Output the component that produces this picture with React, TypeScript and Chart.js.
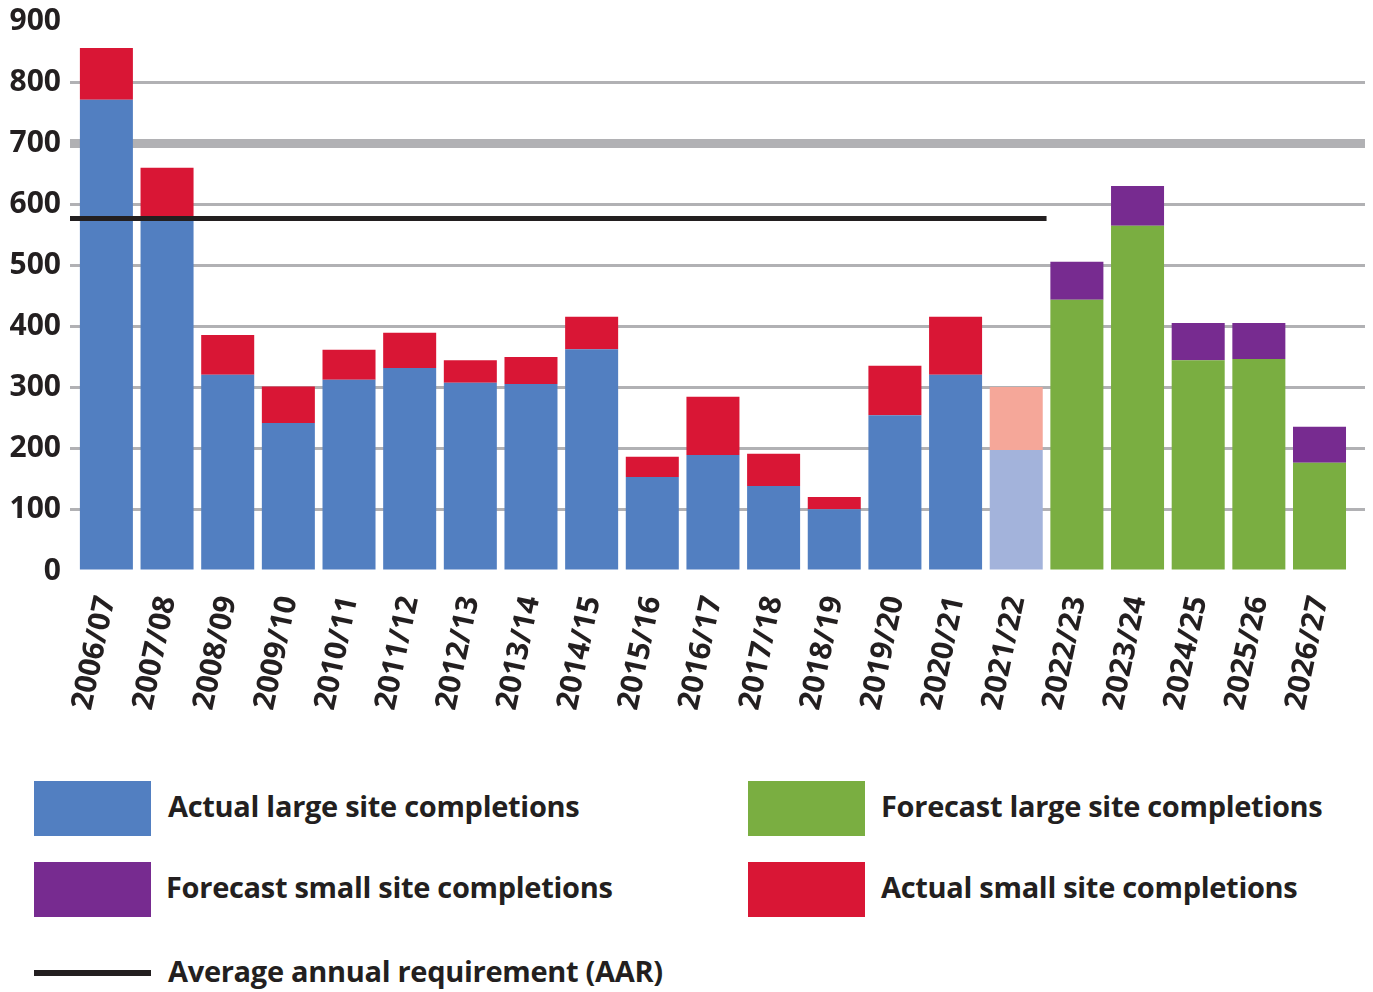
import React, { useEffect, useRef } from 'react';
import { Chart, registerables } from 'chart.js';

Chart.register(...registerables);

const categories = ['2006/07', '2007/08', '2008/09', '2009/10', '2010/11', '2011/12', '2012/13', '2013/14', '2014/15', '2015/16', '2016/17', '2017/18', '2018/19', '2019/20', '2020/21', '2021/22', '2022/23', '2023/24', '2024/25', '2025/26', '2026/27'];
const actualLarge = [771, 579, 321, 242, 313, 332, 308, 306, 363, 154, 190, 139, 101, 255, 321, null, null, null, null, null, null];
const actualSmall = [85, 81, 65, 60, 49, 58, 37, 44, 53, 33, 95, 53, 20, 81, 95, null, null, null, null, null, null];
const estimatedLarge = [null, null, null, null, null, null, null, null, null, null, null, null, null, null, null, 198, null, null, null, null, null];
const estimatedSmall = [null, null, null, null, null, null, null, null, null, null, null, null, null, null, null, 103, null, null, null, null, null];
const forecastLarge = [null, null, null, null, null, null, null, null, null, null, null, null, null, null, null, null, 444, 565, 345, 347, 177];
const forecastSmall = [null, null, null, null, null, null, null, null, null, null, null, null, null, null, null, null, 62, 65, 61, 59, 59];
const aarValue = 577;
const aarLastCategory = '2021/22';
const yMin = 0;
const yMax = 900;
const yStep = 100;
const highlightedGridValue = 700;

const TEXT = '#231F20';
const FONT = "'Open Sans', sans-serif";
const COLORS = {
  actualLarge: '#527FC1',
  actualSmall: '#D91635',
  estimatedLarge: '#A3B3DB',
  estimatedSmall: '#F5A799',
  forecastLarge: '#7AAE41',
  forecastSmall: '#772B90',
  grid: '#B1B1B4',
};

const CANVAS_W = 1373;
const CANVAS_H = 740;
const PLOT_BOTTOM = 571;

const toPoints = (arr: (number | null)[]) =>
  arr.map((v, i) => (v == null ? null : { x: i, y: v })).filter((p) => p !== null) as { x: number; y: number }[];

const legendItems = [
  { label: 'Actual large site completions', color: COLORS.actualLarge, left: 34, top: 781, textLeft: 168, kind: 'box' },
  { label: 'Forecast small site completions', color: COLORS.forecastSmall, left: 34, top: 862, textLeft: 166, kind: 'box' },
  { label: 'Average annual requirement (AAR)', color: TEXT, left: 34, top: 946, textLeft: 168, kind: 'line' },
  { label: 'Forecast large site completions', color: COLORS.forecastLarge, left: 748, top: 781, textLeft: 881, kind: 'box' },
  { label: 'Actual small site completions', color: COLORS.actualSmall, left: 748, top: 862, textLeft: 881, kind: 'box' },
];

export default function App() {
  const canvasRef = useRef<HTMLCanvasElement | null>(null);

  useEffect(() => {
    if (!canvasRef.current) return;
    const aarPlugin = {
      id: 'aarLine',
      afterDraw(chart: any) {
        const { ctx, chartArea, scales } = chart;
        const y = scales.y.getPixelForValue(aarValue);
        const endIdx = categories.indexOf(aarLastCategory);
        const xEnd = scales.x.getPixelForValue(endIdx + 0.5);
        ctx.save();
        ctx.strokeStyle = TEXT;
        ctx.lineWidth = 5;
        ctx.beginPath();
        ctx.moveTo(chartArea.left, y);
        ctx.lineTo(xEnd, y);
        ctx.stroke();
        ctx.restore();
      },
    };

    const barCommon = {
      barPercentage: 0.874,
      categoryPercentage: 1,
      borderWidth: 0,
      grouped: false,
    };

    const chart = new Chart(canvasRef.current, {
      type: 'bar',
      data: {
        datasets: [
          { label: 'Actual large site completions', data: toPoints(actualLarge), backgroundColor: COLORS.actualLarge, ...barCommon },
          { label: 'Actual small site completions', data: toPoints(actualSmall), backgroundColor: COLORS.actualSmall, ...barCommon },
          { label: 'Estimated large site completions', data: toPoints(estimatedLarge), backgroundColor: COLORS.estimatedLarge, ...barCommon },
          { label: 'Estimated small site completions', data: toPoints(estimatedSmall), backgroundColor: COLORS.estimatedSmall, ...barCommon },
          { label: 'Forecast large site completions', data: toPoints(forecastLarge), backgroundColor: COLORS.forecastLarge, ...barCommon },
          { label: 'Forecast small site completions', data: toPoints(forecastSmall), backgroundColor: COLORS.forecastSmall, ...barCommon },
        ] as any,
      },
      options: {
        responsive: false,
        animation: false,
        devicePixelRatio: 1,
        layout: { padding: { top: 21, right: 8, left: 0, bottom: 0 } },
        plugins: {
          legend: { display: false },
          tooltip: { enabled: false },
        },
        scales: {
          x: {
            type: 'linear',
            min: -0.6,
            max: 20.75,
            stacked: true,
            offset: false,
            grid: { display: false, drawTicks: false },
            border: { display: false },
            afterBuildTicks: (axis: any) => {
              axis.ticks = categories.map((_, i) => ({ value: i }));
            },
            afterFit: (axis: any) => {
              axis.height = CANVAS_H - PLOT_BOTTOM;
              axis.paddingLeft = 0;
              axis.paddingRight = 0;
            },
            ticks: {
              autoSkip: false,
              minRotation: 78,
              maxRotation: 78,
              padding: 22,
              color: TEXT,
              font: { family: FONT, size: 30, weight: 'bold' },
              callback: (v: any) => categories[v] ?? '',
            },
          },
          y: {
            min: yMin,
            max: yMax,
            stacked: true,
            z: 1,
            afterFit: (axis: any) => {
              axis.width = 70;
              axis.paddingTop = 0;
              axis.paddingBottom = 0;
            },
            grid: {
              color: (ctx: any) =>
                ctx.tick && (ctx.tick.value === yMin || ctx.tick.value === yMax) ? 'rgba(0,0,0,0)' : COLORS.grid,
              lineWidth: (ctx: any) => (ctx.tick && ctx.tick.value === highlightedGridValue ? 9 : 3),
              drawTicks: false,
            },
            border: { display: false },
            ticks: {
              stepSize: yStep,
              padding: 9,
              color: TEXT,
              font: { family: FONT, size: 30, weight: 'bold' },
            },
          },
        } as any,
      },
      plugins: [aarPlugin],
    } as any);
    return () => chart.destroy();
  }, []);

  return (
    <div style={{ position: 'absolute', left: 0, top: 0, width: CANVAS_W, height: 992, overflow: 'hidden', background: '#fff', fontFamily: FONT }}>
      <canvas ref={canvasRef} width={CANVAS_W} height={CANVAS_H} style={{ position: 'absolute', left: 0, top: 0, width: CANVAS_W, height: CANVAS_H }} />
      {legendItems.map((item) => (
        <React.Fragment key={item.label}>
          {item.kind === 'box' ? (
            <div style={{ position: 'absolute', left: item.left, top: item.top, width: 117, height: 55, background: item.color }} />
          ) : (
            <div style={{ position: 'absolute', left: item.left, top: item.top + 24, width: 117, height: 6, background: item.color }} />
          )}
          <div
            style={{
              position: 'absolute',
              left: item.textLeft,
              top: item.top - 3,
              height: 55,
              display: 'flex',
              alignItems: 'center',
              whiteSpace: 'nowrap',
              fontSize: 29,
              fontWeight: 700,
              color: TEXT,
              letterSpacing: -0.3,
            }}
          >
            {item.label}
          </div>
        </React.Fragment>
      ))}
    </div>
  );
}
